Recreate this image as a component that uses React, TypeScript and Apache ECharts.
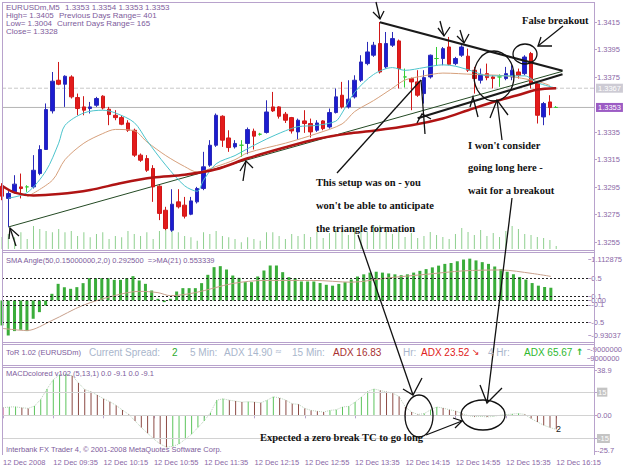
import React, { useEffect, useRef } from "react";
import * as echarts from "echarts";

// ---------- data ----------
const startMinutes = 8 * 60 + 55;
const categories: string[] = Array.from({ length: 95 }, (_, j) => {
  const m = startMinutes + 5 * j;
  const hh = String(Math.floor(m / 60)).padStart(2, "0");
  const mm = String(m % 60).padStart(2, "0");
  return `${hh}:${mm}`;
});
const tickLabels = ["12 Dec 2008", "12 Dec 09:35", "12 Dec 10:15", "12 Dec 10:55", "12 Dec 11:35", "12 Dec 12:15", "12 Dec 12:55", "12 Dec 13:35", "12 Dec 14:15", "12 Dec 14:55", "12 Dec 15:35", "12 Dec 16:15"];

const opens = [1.32957,1.32868,1.32916,1.32952,1.32952,1.32952,1.33049,1.33224,1.33505,1.33728,1.33699,1.33752,1.33602,1.33534,1.33522,1.33546,1.33612,1.33517,1.33473,1.33456,1.33417,1.33364,1.33183,1.33158,1.33086,1.32957,1.32782,1.32637,1.32843,1.32819,1.32753,1.32843,1.32940,1.33110,1.33255,1.33466,1.33308,1.33243,1.33255,1.33268,1.33357,1.33335,1.33348,1.33534,1.33534,1.33481,1.33456,1.33352,1.33432,1.33413,1.33364,1.33432,1.33388,1.33493,1.33619,1.33534,1.33607,1.33728,1.33849,1.33910,1.33995,1.33825,1.33983,1.34014,1.33752,1.33740,1.33716,1.33631,1.33752,1.33886,1.33886,1.33970,1.33849,1.33910,1.33903,1.33801,1.33728,1.33776,1.33752,1.33752,1.33740,1.33752,1.33788,1.33776,1.33922,1.33704,1.33461,1.33570,1.3353];
const highs = [1.32979,1.32921,1.33037,1.33049,1.32964,1.33183,1.33255,1.33559,1.33788,1.33861,1.33764,1.33764,1.33631,1.33612,1.33570,1.33607,1.33619,1.33534,1.33510,1.33473,1.33437,1.33376,1.33195,1.33183,1.33110,1.32964,1.32807,1.32935,1.32935,1.32879,1.32879,1.32952,1.33207,1.33292,1.33486,1.33473,1.33364,1.33292,1.33292,1.33384,1.33376,1.33345,1.33582,1.33643,1.33539,1.33497,1.33461,1.33449,1.33510,1.33449,1.33437,1.33437,1.33522,1.33668,1.33716,1.33728,1.33764,1.33910,1.34007,1.34007,1.34152,1.34079,1.34079,1.34024,1.33813,1.33747,1.33801,1.33801,1.33915,1.33970,1.33970,1.34043,1.33898,1.33983,1.33958,1.33825,1.33813,1.33849,1.33764,1.33771,1.33825,1.33837,1.33813,1.33910,1.33934,1.33704,1.33570,1.33619,1.3354];
const lows = [1.32855,1.32661,1.32904,1.32868,1.32916,1.32940,1.33037,1.33224,1.33486,1.33692,1.33534,1.33595,1.33473,1.33473,1.33486,1.33534,1.33515,1.33401,1.33437,1.33401,1.33352,1.33170,1.33134,1.33061,1.32843,1.32710,1.32637,1.32625,1.32795,1.32722,1.32746,1.32831,1.32928,1.33098,1.33243,1.33243,1.33207,1.33231,1.33170,1.33190,1.33224,1.33325,1.33340,1.33497,1.33449,1.33417,1.33340,1.33296,1.33345,1.33311,1.33352,1.33364,1.33376,1.33486,1.33522,1.33522,1.33595,1.33716,1.33837,1.33898,1.33777,1.33813,1.33970,1.33668,1.33675,1.33510,1.33607,1.33558,1.33740,1.33837,1.33837,1.33837,1.33837,1.33898,1.33788,1.33631,1.33704,1.33728,1.33668,1.33680,1.33728,1.33728,1.33740,1.33764,1.33668,1.33413,1.33401,1.33473,1.3353];
const closes = [1.32884,1.32904,1.32972,1.32940,1.32952,1.33073,1.33224,1.33515,1.33721,1.33699,1.33757,1.33607,1.33522,1.33510,1.33534,1.33595,1.33526,1.33478,1.33456,1.33408,1.33364,1.33183,1.33146,1.33073,1.32952,1.32759,1.32649,1.32826,1.32807,1.32739,1.32850,1.32940,1.33098,1.33255,1.33473,1.33292,1.33238,1.33268,1.33255,1.33369,1.33321,1.33335,1.33497,1.33505,1.33466,1.33437,1.33359,1.33437,1.33413,1.33352,1.33417,1.33376,1.33493,1.33607,1.33534,1.33590,1.33728,1.33861,1.33934,1.33983,1.33788,1.33995,1.34031,1.33813,1.33752,1.33716,1.33619,1.33747,1.33910,1.33886,1.33958,1.33844,1.33886,1.33970,1.33801,1.33740,1.33771,1.33747,1.33740,1.33752,1.33776,1.33801,1.33764,1.33897,1.33704,1.33473,1.33558,1.33529,1.3353];
const volumes = [120,150,117,167,100,230,200,180,167,200,167,180,130,167,117,150,167,100,130,117,180,150,130,167,100,180,217,230,167,130,117,83,167,150,180,130,117,100,67,117,100,83,167,167,130,100,150,130,150,120,170,110,160,200,180,140,210,190,170,230,240,200,150,180,120,160,110,130,170,140,120,100,150,210,170,140,190,130,160,120,180,230,200,150,140,120,110,90,30];

// moving averages: [bar index, price]
const maSlowRed = [[0,1.3296],[2,1.3291],[5,1.3289],[9,1.3290],[14,1.3293],[19,1.3298],[24,1.3302],[29,1.3304],[34,1.3308],[39,1.3316],[45,1.3324],[50,1.3330],[55,1.3334],[59,1.3336],[65,1.3340],[70,1.3345],[74,1.3351],[78,1.3357],[82,1.3362],[85,1.3366],[88,1.3367]];
const maCyan = [[1,1.3287],[4,1.3291],[7,1.3307],[9,1.3327],[10,1.3340],[13,1.3349],[16,1.3351],[18,1.3349],[21,1.3342],[23,1.3329],[26,1.3311],[29,1.3296],[31,1.3292],[32,1.3300],[34,1.3312],[37,1.3318],[39,1.3323],[42,1.3330],[45,1.3336],[47,1.3339],[50,1.3340],[53,1.3343],[54,1.3349],[56,1.3364],[59,1.3377],[62,1.3382],[64,1.3380],[67,1.3382],[70,1.3384],[72,1.3383],[75,1.3379],[77,1.3376],[80,1.3376],[83,1.3376],[85,1.3371],[88,1.3367]];
const maTan = [[4,1.3288],[8,1.3300],[10,1.3315],[13,1.3327],[16,1.3334],[18,1.3337],[21,1.3336],[23,1.3328],[26,1.3318],[29,1.3310],[31,1.3306],[34,1.3310],[37,1.3315],[39,1.3320],[45,1.3327],[50,1.3334],[54,1.3341],[56,1.3350],[59,1.3358],[62,1.3367],[64,1.3373],[67,1.3376],[70,1.3378],[75,1.3377],[80,1.3376],[85,1.3372],[87,1.3369]];
const trendLong = [[1,1.3266],[89,1.33793]];
const trendUpper = [[60,1.3415],[89,1.33797]];
const trendLower = [[66,1.33451],[89,1.33772]];
const bidPrice = 1.3353;
const maLevel = 1.3367;

const smaAngle = [-0.573,-0.803,-0.703,-0.673,-0.703,-0.42,-0.268,-0.115,0.153,0.382,0.306,0.268,0.306,0.398,0.512,0.512,0.512,0.512,0.474,0.474,0.512,0.558,0.459,0.382,0.229,0.038,-0.038,0.038,0.206,0.283,0.283,0.283,0.398,0.589,0.765,0.788,0.711,0.573,0.520,0.421,0.421,0.551,0.688,0.803,0.803,0.650,0.535,0.512,0.436,0.436,0.436,0.40,0.36,0.34,0.38,0.42,0.48,0.55,0.60,0.64,0.66,0.64,0.62,0.60,0.58,0.60,0.64,0.68,0.72,0.76,0.80,0.84,0.86,0.90,0.94,0.96,0.92,0.88,0.84,0.78,0.72,0.66,0.60,0.54,0.48,0.40,0.34,0.31,0.2925];
const smaMA21 = [[0,-0.64],[4,-0.69],[8,-0.46],[13,-0.11],[18,0.11],[22,0.21],[25,0.18],[27,0.11],[31,0.18],[37,0.39],[42,0.46],[47,0.46],[50,0.46],[56,0.42],[62,0.52],[68,0.60],[74,0.68],[80,0.70],[85,0.62],[88,0.553]];

const macd = [4.9,5.4,5.5,4.9,4.5,6.0,10.3,17.1,23.1,26.3,26.8,25.7,21.0,16.7,15.2,13.1,10.7,8.8,6.4,3.4,0.6,-3.6,-7.9,-11.6,-15.4,-18.6,-20.6,-20.1,-18.6,-15.4,-12.2,-7.9,-3.6,1.7,9.8,10.7,9.8,9.2,8.6,8.8,8.6,8.1,9.8,12.0,11.3,9.8,7.5,7.1,4.5,3.2,2.6,2.1,3.2,3.6,5.4,5.8,8.6,11.8,15.4,17.1,16.1,15.2,14.3,12.2,5.4,2.1,0.6,1.1,3.6,5.4,4.7,3.6,2.8,1.1,-0.2,-0.9,-0.6,-1.1,-0.6,0.0,0.4,0.9,1.1,0.6,-2.1,-4.3,-6.4,-7.9,-9.1];

const priceTicks = [1.3415, 1.3395, 1.3375, 1.3335, 1.3315, 1.3295, 1.3275, 1.3255];
const smaTicks = [0.952, 0.5, 0.1, 0, -0.1, -0.5, -0.793];
const macdTicks = [29.3, 15, 0, -15, -23.1];

// ---------- styles ----------
const LAB = "#8a68a6";
const FRAME = "#b8a2cc";
const SANS = "Liberation Sans, Arial, sans-serif";
const SERIF = "Liberation Serif, Times New Roman, serif";
const LAST = categories.length - 1;

function rightAxis(gridIndex: number, min: number, max: number, values: number[], fmt: (v: number) => string, extra: any = {}) {
  return {
    type: "value", gridIndex, position: "right", min, max, scale: true,
    axisLine: { show: false },
    splitLine: { show: false },
    axisTick: { show: true, customValues: values, length: 3, lineStyle: { color: FRAME } },
    axisLabel: { show: true, customValues: values, formatter: fmt, color: LAB, fontSize: 7.5, fontFamily: SANS, margin: 3, ...extra },
  };
}

function xAxisFor(gridIndex: number, show: boolean) {
  return {
    type: "category", gridIndex, data: categories, boundaryGap: false,
    axisLine: { show, lineStyle: { color: FRAME } },
    axisTick: { show, interval: 7, length: 3, lineStyle: { color: FRAME } },
    axisLabel: {
      show, interval: 7, align: "left", margin: 3, color: LAB, fontSize: 7.5, fontFamily: SANS,
      formatter: (_v: string, idx: number) => (idx % 8 === 0 ? tickLabels[idx / 8] ?? "" : ""),
    },
    splitLine: { show: false },
  };
}

function stroke(points: number[][], lw = 1.3) {
  return { type: "polyline", silent: true, z: 100, shape: { points }, style: { stroke: "#111", lineWidth: lw, fill: null } };
}
function oval(cx: number, cy: number, rx: number, ry: number) {
  return { type: "ellipse", silent: true, z: 100, shape: { cx, cy, rx, ry }, style: { stroke: "#111", lineWidth: 1.3, fill: null } };
}
function txt(x: number, y: number, text: string, fill: string, size: number, family = SANS, weight = "normal") {
  return {
    type: "text", silent: true, z: 101, x, y,
    style: { text, fill, fontSize: size, fontFamily: family, fontWeight: weight, verticalAlign: "middle", textVerticalAlign: "middle", align: "left", textAlign: "left" },
  };
}
function hline(y: number, x1: number, x2: number, color = FRAME) {
  return { type: "line", silent: true, z: 50, shape: { x1, y1: y, x2, y2: y }, style: { stroke: color, lineWidth: 1 } };
}

export default function App() {
  const ref = useRef<HTMLDivElement>(null);
  useEffect(() => {
    if (!ref.current) return;
    const chart = echarts.init(ref.current, null, { renderer: "svg", width: 625, height: 469 });
    const candleData = opens.map((o, i) => [o, closes[i], lows[i], highs[i]]);
    const macdItems = macd.map((v, i) => ({
      value: v,
      itemStyle: { color: i === 0 ? "#c0407a" : v > macd[i - 1] ? "#5cc45c" : "#8c4a44" },
    }));
    const levelSeries = (price: number, color: string, type: string, bg: string) => ({
      type: "line", xAxisIndex: 0, yAxisIndex: 0, data: [[0, price], [LAST, price]], symbol: "none", z: 2,
      lineStyle: { color, type, width: 1 },
      endLabel: {
        show: true, formatter: price.toFixed(4), distance: 2, backgroundColor: bg, color: "#ffffff",
        fontSize: 7.5, fontFamily: SANS, padding: [1, 2, 0, 2],
      },
    });

    const graphic: any[] = [
      // frame & separators
      { type: "line", silent: true, z: 50, shape: { x1: 2.5, y1: 2, x2: 2.5, y2: 455 }, style: { stroke: FRAME, lineWidth: 1 } },
      { type: "line", silent: true, z: 50, shape: { x1: 594.5, y1: 2, x2: 594.5, y2: 455 }, style: { stroke: FRAME, lineWidth: 1 } },
      hline(2.5, 2, 594), hline(250.5, 2, 594), hline(252.5, 2, 594), hline(342.5, 2, 594), hline(344.5, 2, 594), hline(365.5, 2, 594), hline(367.5, 2, 594),
      // header
      txt(6, 7, "EURUSDm,M5", "#7d5b9b", 8), txt(65, 7, "1.3353 1.3354 1.3353 1.3353", "#7d5b9b", 8),
      txt(6, 15, "High= 1.3405", "#7d5b9b", 8), txt(59, 15, "Previous Days Range= 401", "#7d5b9b", 8),
      txt(6, 23, "Low= 1.3004", "#7d5b9b", 8), txt(57, 23, "Current Days Range= 165", "#7d5b9b", 8),
      txt(6, 31, "Close= 1.3328", "#7d5b9b", 8),
      // sub-panel labels
      txt(6, 260, "SMA Angle(50,0.15000000,2,0) 0.292500  =>MA(21) 0.553339", "#7d5b9b", 7.5),
      txt(6, 352, "ToR 1.02 (EURUSDm)", "#7d5b9b", 7.5),
      txt(89, 352, "Current Spread:", "#a9b6cc", 10), txt(172, 352, "2", "#2eaa2e", 10),
      txt(190, 352, "5 Min:", "#a9b6cc", 10), txt(224, 352, "ADX 14.90", "#a9b6cc", 10), txt(275, 351, "≈", "#a9b6cc", 8, "DejaVu Sans"),
      txt(292, 352, "15 Min:", "#a9b6cc", 10), txt(333, 352, "ADX 16.83", "#a83030", 10),
      txt(403, 352, "Hr:", "#a9b6cc", 10), txt(421, 352, "ADX 23.52", "#e02020", 10), txt(472, 352, "↘", "#e02020", 9, "DejaVu Sans"),
      txt(488, 352, "4 Hr:", "#a9b6cc", 10), txt(524, 352, "ADX 65.67", "#2eb82e", 10), txt(576, 352, "↑", "#2eb82e", 9, "DejaVu Sans", "bold"),
      txt(6, 373, "MACDcolored v102 (5,13,1) 0.0 -9.1 0.0 -9.1", "#7d5b9b", 7.5),
      txt(6, 449, "Interbank FX Trader 4, © 2001-2008 MetaQuotes Software Corp.", "#7d5b9b", 7.5),
      txt(556, 429, "2", "#222", 9),
      // hand-written notes
      txt(522, 20, "False breakout", "#111", 10.5, SERIF, "bold"),
      txt(468, 145, "I won't consider", "#111", 10.5, SERIF, "bold"),
      txt(468, 167, "going long here -", "#111", 10.5, SERIF, "bold"),
      txt(468, 190, "wait for a breakout", "#111", 10.5, SERIF, "bold"),
      txt(316, 182, "This setup was on - you", "#111", 10.5, SERIF, "bold"),
      txt(316, 205, "won't be able to anticipate", "#111", 10.5, SERIF, "bold"),
      txt(316, 228, "the triangle formation", "#111", 10.5, SERIF, "bold"),
      txt(260, 437, "Expected a zero break TC to go long", "#111", 10.5, SERIF, "bold"),
      // drawn arrows
      stroke([[376, 2], [380, 19]]), stroke([[373, 12], [380, 19], [384, 11]]),
      stroke([[440, 21], [444, 36]]), stroke([[438, 28], [444, 36], [450, 27]]),
      stroke([[460, 30], [464, 43]]), stroke([[457, 36], [464, 43], [469, 34]]),
      stroke([[563, 26], [538, 46]]), stroke([[541, 37], [538, 46], [552, 46]]),
      stroke([[337, 173], [421, 80]]),
      stroke([[421, 80], [425, 134]]), stroke([[417, 123], [422, 114], [431, 119]]),
      stroke([[470, 107], [473, 97], [478, 117]]),
      stroke([[502, 140], [497, 100]]), stroke([[490, 118], [497, 100], [508, 115]]),
      stroke([[243, 181], [246, 161]]), stroke([[240, 171], [246, 161], [253, 168]]),
      stroke([[16, 246], [10, 228]]), stroke([[9, 239], [10, 228], [19, 236]]),
      stroke([[512, 198], [487, 403]]), stroke([[480, 385], [487, 403], [502, 388]]),
      stroke([[358, 235], [413, 395]]), stroke([[403, 389], [413, 395], [422, 378]]),
      stroke([[426, 435], [462, 421]]), stroke([[453, 418], [462, 421], [455, 428]]),
      oval(494, 76, 20, 25), oval(525, 54, 12, 10), oval(419, 416, 14, 21), oval(483, 415, 22, 15),
    ];

    const option: any = {
      animation: false,
      backgroundColor: "#ffffff",
      grid: [
        { left: 2, right: 31, top: 3, height: 246 },
        { left: 2, right: 31, top: 215, height: 34 },
        { left: 2, right: 31, top: 252, height: 89 },
        { left: 2, right: 31, top: 349, height: 9 },
        { left: 2, right: 31, top: 367, height: 88 },
      ],
      xAxis: [xAxisFor(0, false), xAxisFor(1, false), xAxisFor(2, false), xAxisFor(3, false), xAxisFor(4, true)],
      yAxis: [
        rightAxis(0, 1.3250, 1.3429, priceTicks, (v: number) => v.toFixed(4)),
        { type: "value", gridIndex: 1, min: 0, max: 340, show: false },
        rightAxis(2, -0.93037, 1.112875, smaTicks, (v: number) => (v > 0.9 ? "1.112875" : v < -0.7 ? "-0.93037" : v === 0 ? "0.00" : String(v))),
        { ...rightAxis(3, -9000000, 9000000, [-9000000, 9000000], (v: number) => String(v)), inverse: true },
        rightAxis(4, -25.7, 31.3, macdTicks, (v: number) => (v > 25 ? "38.9" : v < -20 ? "-25.7" : v === 0 ? "0.00" : v === 15 ? "{b|15}" : v === -15 ? "{b|-15}" : String(v)),
          { rich: { b: { backgroundColor: "#c4c4c4", color: "#ffffff", fontSize: 7.5, fontFamily: SANS, padding: [1, 1, 0, 1] } } }),
      ],
      graphic,
      series: [
        { type: "bar", xAxisIndex: 1, yAxisIndex: 1, data: volumes, barWidth: 1, itemStyle: { color: "#8fd08f" }, z: 1 },
        levelSeries(maLevel, "#c8c8c8", "dashed", "#cdcbd4"),
        levelSeries(bidPrice, "#b4b4b4", "solid", "#9c5cc4"),
        { type: "line", xAxisIndex: 0, yAxisIndex: 0, data: trendLong, symbol: "none", lineStyle: { color: "#244a24", width: 1 }, z: 3 },
        {
          type: "candlestick", xAxisIndex: 0, yAxisIndex: 0, data: candleData, barWidth: 4, z: 4,
          itemStyle: { color: "#1c1cd0", color0: "#e31b1b", borderColor: "#2a2ab8", borderColor0: "#d01818", borderColorDoji: "#33cc33", borderWidth: 1 },
        },
        { type: "line", xAxisIndex: 0, yAxisIndex: 0, data: maTan, symbol: "none", smooth: 0.3, lineStyle: { color: "#d6a07c", width: 1 }, z: 5 },
        { type: "line", xAxisIndex: 0, yAxisIndex: 0, data: maCyan, symbol: "none", smooth: 0.3, lineStyle: { color: "#4cc4cc", width: 1 }, z: 5 },
        { type: "line", xAxisIndex: 0, yAxisIndex: 0, data: maSlowRed, symbol: "none", smooth: 0.3, lineStyle: { color: "#b01414", width: 2.5 }, z: 5 },
        { type: "line", xAxisIndex: 0, yAxisIndex: 0, data: trendUpper, symbol: "none", lineStyle: { color: "#1a1a1a", width: 2.2 }, z: 6 },
        { type: "line", xAxisIndex: 0, yAxisIndex: 0, data: trendLower, symbol: "none", lineStyle: { color: "#1a1a1a", width: 2.2 }, z: 6 },
        {
          type: "bar", xAxisIndex: 2, yAxisIndex: 2, data: smaAngle, barWidth: 3, itemStyle: { color: "#3aad3a" }, z: 3,
          markLine: {
            silent: true, symbol: ["none", "none"], label: { show: false },
            lineStyle: { color: "#222", type: [2, 2], width: 1 },
            data: [{ yAxis: 0.5 }, { yAxis: 0.1 }, { yAxis: 0 }, { yAxis: -0.1 }, { yAxis: -0.5 }],
          },
        },
        { type: "line", xAxisIndex: 2, yAxisIndex: 2, data: smaMA21, symbol: "none", smooth: 0.3, lineStyle: { color: "#c8a08c", width: 1 }, z: 4 },
        {
          type: "bar", xAxisIndex: 4, yAxisIndex: 4, data: macdItems, barWidth: 1, z: 3,
          markLine: {
            silent: true, symbol: ["none", "none"], label: { show: false },
            lineStyle: { color: "#d2d2d2", type: "solid", width: 1 },
            data: [{ yAxis: 15 }, { yAxis: 0 }, { yAxis: -15 }],
          },
        },
        { type: "line", xAxisIndex: 4, yAxisIndex: 4, data: macd, symbol: "none", lineStyle: { color: "#b8d0b8", width: 1, type: "dotted" }, z: 2 },
      ],
    };
    chart.setOption(option);
    return () => chart.dispose();
  }, []);
  return <div ref={ref} style={{ position: "fixed", left: 0, top: 0, width: 625, height: 469, background: "#fff" }} />;
}
